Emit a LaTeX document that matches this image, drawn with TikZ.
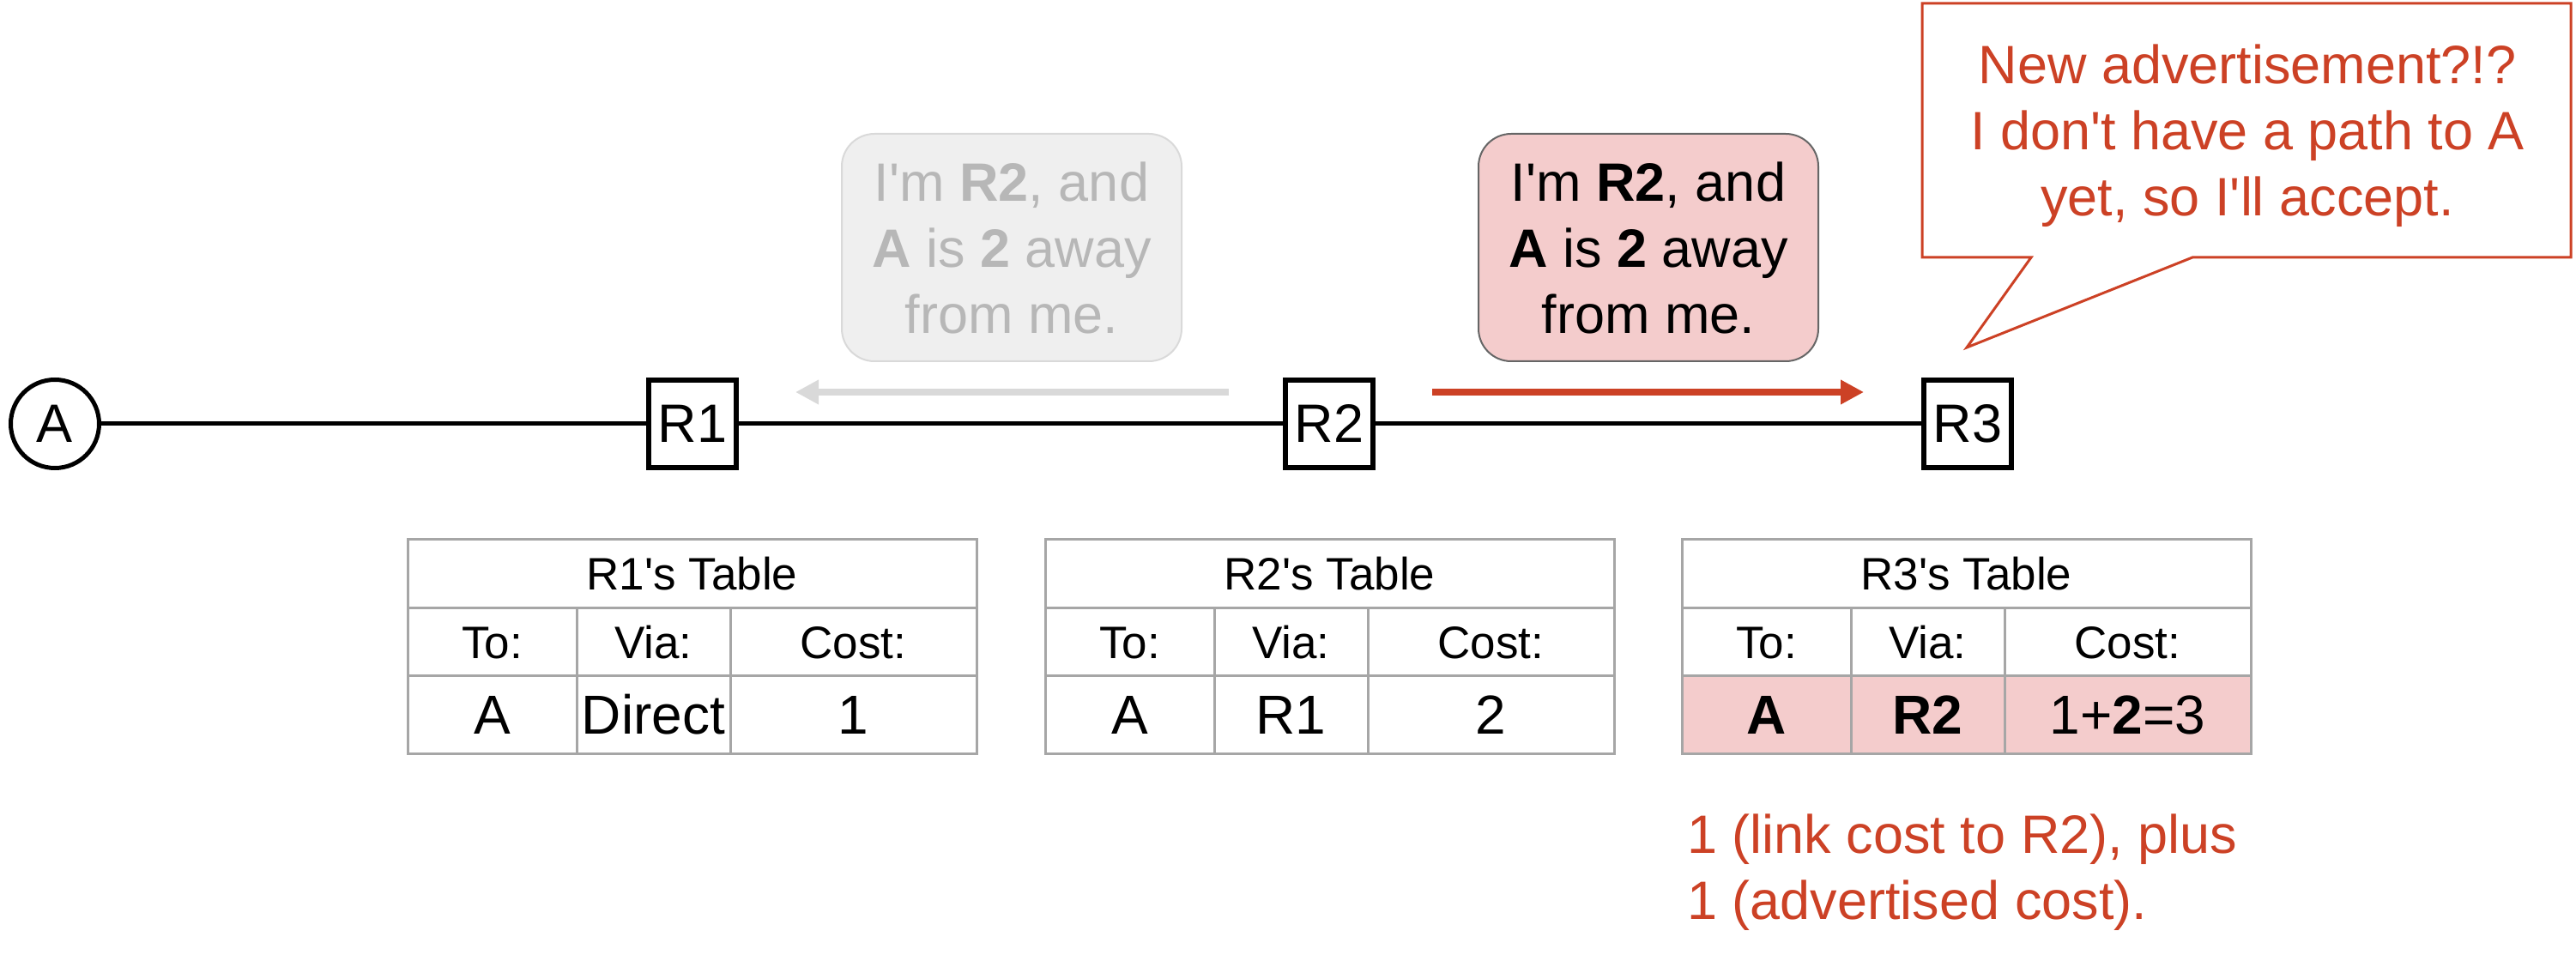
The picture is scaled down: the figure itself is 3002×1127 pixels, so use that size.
\documentclass[tikz,border=0pt]{standalone}
\usepackage{fontspec}
\setmainfont{Liberation Sans}[Ligatures=TeXOff]
\usepackage{tikz}
\usetikzlibrary{arrows.meta}
\definecolor{berry}{HTML}{CC4125}
\definecolor{berrylight}{HTML}{F4CCCC}
\definecolor{fadefill}{HTML}{EFEFEF}
\definecolor{fadeline}{HTML}{D9D9D9}
\definecolor{fadetext}{HTML}{B7B7B7}
\definecolor{gridgray}{HTML}{A6A6A6}
\newcommand{\bigfont}{\fontsize{31.5}{38.5}\selectfont}
\newcommand{\tabfont}{\fontsize{26.5}{32}\selectfont}
\newcommand{\datfont}{\fontsize{32}{38}\selectfont}
\tikzstyle{host} = [circle, draw, line width=2.5pt, minimum size=51.5pt,
    inner sep=0pt, font=\bigfont]
\tikzstyle{router} = [rectangle, draw, line width=2.75pt, minimum size=51pt,
    inner sep=0pt, font=\bigfont]
\tikzstyle{advert} = [rectangle, rounded corners=19pt, line width=1pt,
    minimum width=198pt, minimum height=132.5pt, inner sep=0pt,
    align=center, font=\bigfont]
\tikzstyle{gridline} = [draw=gridgray, line width=1.5pt]
\tikzstyle{cell} = [anchor=base, inner sep=0pt]
\tikzset{>={Triangle[length=13.5pt,width=13.5pt]}}

\begin{document}
\begin{tikzpicture}[x=0.5pt, y=-0.5pt]
    \useasboundingbox (0,0) rectangle (3002,1127);
    %network
    \node[host] (A) at (64,494) {A};
    \node[router] (R1) at (807,494) {R1};
    \node[router] (R2) at (1549,494) {R2};
    \node[router] (R3) at (2293,494) {R3};
    \draw[line width=2.5pt] (A) -- (R1);
    \draw[line width=2.5pt] (R1) -- (R2);
    \draw[line width=2.5pt] (R2) -- (R3);
    %advertisements
    \node[advert, draw=fadeline, fill=fadefill, text=fadetext] (oldmsg) at (1179,288.5)
        {I'm \textbf{R2}, and\\\textbf{A} is \textbf{2} away\\from me.};
    \node[advert, draw=black!60, fill=berrylight] (newmsg) at (1921,288.5)
        {I'm \textbf{R2}, and\\\textbf{A} is \textbf{2} away\\from me.};
    \coordinate (oldfrom) at (1432,457);
    \coordinate (oldto) at (927,457);
    \coordinate (newfrom) at (1669,457);
    \coordinate (newto) at (2172,457);
    \draw[->, fadeline, line width=4pt] (oldfrom) -- (oldto);
    \draw[->, berry, line width=4pt] (newfrom) -- (newto);
    %speech bubble
    \draw[berry, line width=1.5pt, line join=miter] (2240,4) -- (2996,4) -- (2996,300)
        -- (2555,300) -- (2292,405) -- (2367,300) -- (2240,300) -- cycle;
    \node[berry, align=center, font=\bigfont, inner sep=0pt] (think) at (2619,158)
        {New advertisement?!?\\I don't have a path to A\\yet, so I'll accept.};
    %tables
    \fill[berrylight] (1960,787) rectangle (2623,878);
    \foreach \tx in {475,1218,1960} {
        \draw[gridline] (\tx,629) rectangle ++(663,249);
        \draw[gridline] (\tx,708) -- ++(663,0);
        \draw[gridline] (\tx,787) -- ++(663,0);
        \draw[gridline] (\tx+197,708) -- (\tx+197,878);
        \draw[gridline] (\tx+376,708) -- (\tx+376,878);
    }
    \foreach \tx/\tn in {475/1,1218/2,1960/3} {
        \node[cell, font=\tabfont] (title\tn) at (\tx+331.5,688) {R\tn's Table};
        \node[cell, font=\tabfont] (to\tn) at (\tx+98.5,767) {To:};
        \node[cell, font=\tabfont] (via\tn) at (\tx+286.5,767) {Via:};
        \node[cell, font=\tabfont] (cost\tn) at (\tx+519.5,767) {Cost:};
    }
    \node[cell, font=\datfont] (dest1) at (573.5,855) {A};
    \node[cell, font=\datfont] (hop1) at (761.5,855) {Direct};
    \node[cell, font=\datfont] (sum1) at (994.5,855) {1};
    \node[cell, font=\datfont] (dest2) at (1316.5,855) {A};
    \node[cell, font=\datfont] (hop2) at (1504.5,855) {R1};
    \node[cell, font=\datfont] (sum2) at (1737.5,855) {2};
    \node[cell, font=\datfont] (dest3) at (2058.5,855) {\textbf{A}};
    \node[cell, font=\datfont] (hop3) at (2246.5,855) {\textbf{R2}};
    \node[cell, font=\datfont] (sum3) at (2479.5,855) {1+\textbf{2}=3};
    %note
    \node[berry, anchor=west, align=left, font=\bigfont, inner sep=0pt] (note) at (1966,1017)
        {1 (link cost to R2), plus\\1 (advertised cost).};
\end{tikzpicture}
\end{document}
